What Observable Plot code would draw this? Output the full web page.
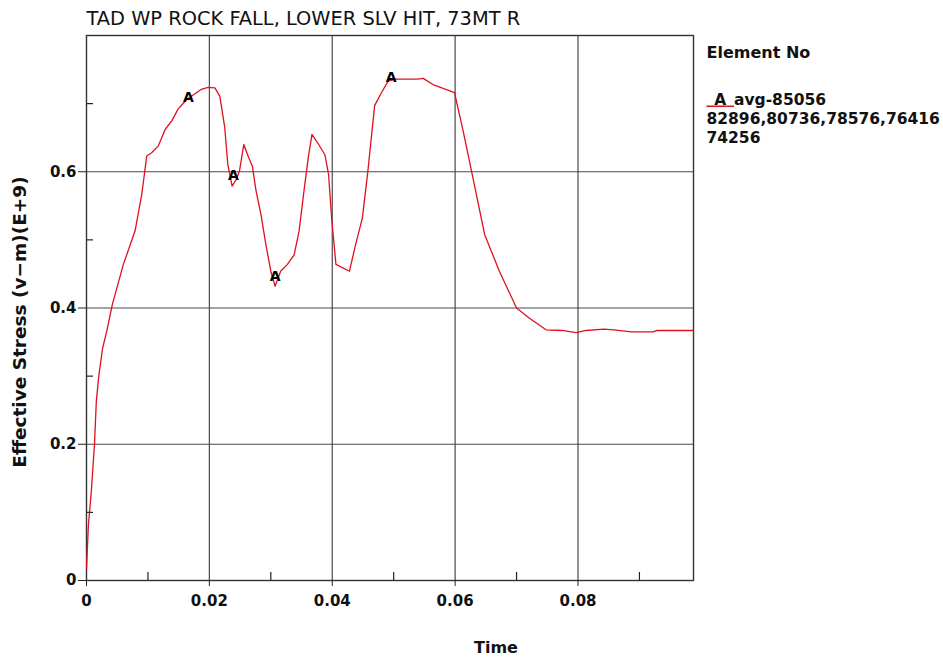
<!DOCTYPE html>
<html>
<head>
<meta charset="utf-8">
<script src="https://cdn.jsdelivr.net/npm/d3@7"></script>
<script src="https://cdn.jsdelivr.net/npm/@observablehq/plot@0.6"></script>
<style>
  body { margin: 0; background: #fff; }
  #chart svg { display: block; }
</style>
</head>
<body>
<div id="chart"></div>
<script>
// ---- data ----
const times = [0, 0.0003, 0.0008, 0.0013, 0.0016, 0.0020, 0.0026, 0.0033, 0.0042, 0.0060,
  0.0079, 0.0090, 0.0098, 0.0106, 0.0117, 0.0128, 0.0139, 0.0149, 0.0163, 0.0176,
  0.0187, 0.0198, 0.0209, 0.0217, 0.0225, 0.0230, 0.0237, 0.0244, 0.0249, 0.0256,
  0.0263, 0.0270, 0.0276, 0.0284, 0.0292, 0.0300, 0.0307, 0.0316, 0.0327, 0.0338,
  0.0346, 0.0354, 0.0361, 0.0367, 0.0378, 0.0388, 0.0394, 0.0399, 0.0406, 0.0428,
  0.0438, 0.0449, 0.0458, 0.0469, 0.0480, 0.0491, 0.0504, 0.0539, 0.0548, 0.0564,
  0.0599, 0.0613, 0.0629, 0.0648, 0.0672, 0.0700, 0.0721, 0.0748, 0.0774, 0.0797,
  0.0813, 0.0842, 0.0858, 0.0887, 0.0922, 0.0929, 0.0988];
const stress = [0.017, 0.080, 0.133, 0.200, 0.263, 0.300, 0.340, 0.366, 0.405, 0.464,
  0.513, 0.567, 0.623, 0.628, 0.638, 0.662, 0.675, 0.692, 0.706, 0.714,
  0.721, 0.724, 0.723, 0.711, 0.665, 0.611, 0.579, 0.589, 0.601, 0.640,
  0.623, 0.608, 0.572, 0.537, 0.493, 0.454, 0.432, 0.454, 0.464, 0.478,
  0.513, 0.572, 0.621, 0.655, 0.640, 0.625, 0.596, 0.532, 0.464, 0.454,
  0.493, 0.532, 0.601, 0.697, 0.716, 0.733, 0.736, 0.736, 0.737, 0.728,
  0.716, 0.660, 0.591, 0.508, 0.454, 0.400, 0.385, 0.368, 0.367, 0.364,
  0.367, 0.369, 0.368, 0.365, 0.365, 0.367, 0.367];

const markerTimes  = [0.0166, 0.0239, 0.0307, 0.0496];
const markerStress = [0.709, 0.595, 0.446, 0.739];
const markerLabel = "A";

const xDomain = [0, 0.0988];
const yDomain = [0, 0.8];
const xMajor = [0, 0.02, 0.04, 0.06, 0.08];
const xMinor = [0.01, 0.03, 0.05, 0.07, 0.09];
const yMajor = [0, 0.2, 0.4, 0.6];
const yMinor = [0.1, 0.3, 0.5, 0.7];
const xGrid = [0.02, 0.04, 0.06, 0.08];
const yGrid = [0.2, 0.4, 0.6];

const title = "TAD WP ROCK FALL, LOWER SLV HIT, 73MT R";
const xLabel = "Time";
const yLabel = "Effective Stress (v\u2212m)(E+9)";
const legendTitle = "Element No";
const legendSeries = "avg-85056";
const legendLines = ["82896,80736,78576,76416", "74256"];

// ---- layout ----
const W = 943, H = 658;
const mL = 86, mR = 250, mT = 35, mB = 78;
const frameW = W - mL - mR, frameH = H - mT - mB;
const RED = "#e0101e";
const GRID = "#4a4a4a";
const FONT = "DejaVu Sans";
const PAD = "\u2002";
const seriesLine = PAD + markerLabel + PAD + legendSeries;

const data = times.map((t, i) => ({t, v: stress[i]}));
const markers = markerTimes.map((t, i) => ({t, v: markerStress[i]}));

const legendText = (txt, dy, size = 15.5) => Plot.text([txt], {
  frameAnchor: "top-right", textAnchor: "start", lineAnchor: "bottom",
  dx: 13, dy, fontSize: size, fontWeight: "bold", fill: "#111"});

const chart = Plot.plot({
  width: W, height: H,
  marginLeft: mL, marginRight: mR, marginTop: mT, marginBottom: mB,
  style: {fontFamily: FONT, fontSize: "15px", fontWeight: "bold", color: "#111", background: "#fff"},
  x: {domain: xDomain},
  y: {domain: yDomain},
  marks: [
    Plot.ruleX(xGrid, {stroke: GRID, strokeWidth: 1.2}),
    Plot.ruleY(yGrid, {stroke: GRID, strokeWidth: 1.2}),
    Plot.ruleX(xMinor, {stroke: "#222", strokeWidth: 1.2, insetTop: frameH - 8}),
    Plot.ruleY(yMinor, {stroke: "#222", strokeWidth: 1.2, insetRight: frameW - 7}),
    Plot.frame({stroke: "#333", strokeWidth: 1.4}),
    Plot.axisX(xMajor, {tickSize: 6, tickPadding: 9, stroke: "#222",
      tickFormat: d => d === 0 ? "0" : d.toFixed(2), label: null,
      fontSize: 15, fontWeight: "bold", fill: "#111"}),
    Plot.axisY(yMajor, {tickSize: 8, tickPadding: 2, stroke: "#222",
      tickFormat: d => d === 0 ? "0" : d.toFixed(1), label: null,
      fontSize: 15, fontWeight: "bold", fill: "#111"}),
    Plot.line(data, {x: "t", y: "v", stroke: RED, strokeWidth: 1.3}),
    Plot.text(markers, {x: "t", y: "v", text: () => markerLabel, fill: "#000",
      fontSize: 14, fontWeight: "bold", lineAnchor: "middle"}),
    // title
    Plot.text([title], {frameAnchor: "top-left", textAnchor: "start", lineAnchor: "bottom",
      dy: -11, fontSize: 19.4, fontWeight: "normal", fill: "#111"}),
    // axis labels
    Plot.text([xLabel], {frameAnchor: "bottom", textAnchor: "middle", lineAnchor: "bottom",
      dx: 106, dy: 72, fontSize: 16, fontWeight: "bold", fill: "#111"}),
    Plot.text([yLabel], {frameAnchor: "left", textAnchor: "middle", lineAnchor: "middle",
      rotate: -90, dx: -66, dy: 14, fontSize: 18.5, fontWeight: "bold", fill: "#111"}),
    // legend
    legendText(legendTitle, 22, 16),
    legendText(seriesLine, 69),
    legendText(legendLines[0], 88),
    legendText(legendLines[1], 107)
  ]
});

// style the "_A_" swatch of the legend: red underline under a black A
d3.select(chart).selectAll("text").filter(function() { return this.textContent === seriesLine; })
  .each(function() {
    const t = d3.select(this);
    t.text(null);
    const sw = t.append("tspan").attr("fill", RED).attr("font-weight", "normal")
      .style("text-decoration", "underline").style("text-decoration-color", RED);
    sw.append("tspan").text(PAD);
    sw.append("tspan").attr("fill", "#111").attr("font-weight", "bold").text(markerLabel);
    sw.append("tspan").text(PAD);
    t.append("tspan").text(legendSeries);
  });

document.getElementById("chart").appendChild(chart);
</script>
</body>
</html>
